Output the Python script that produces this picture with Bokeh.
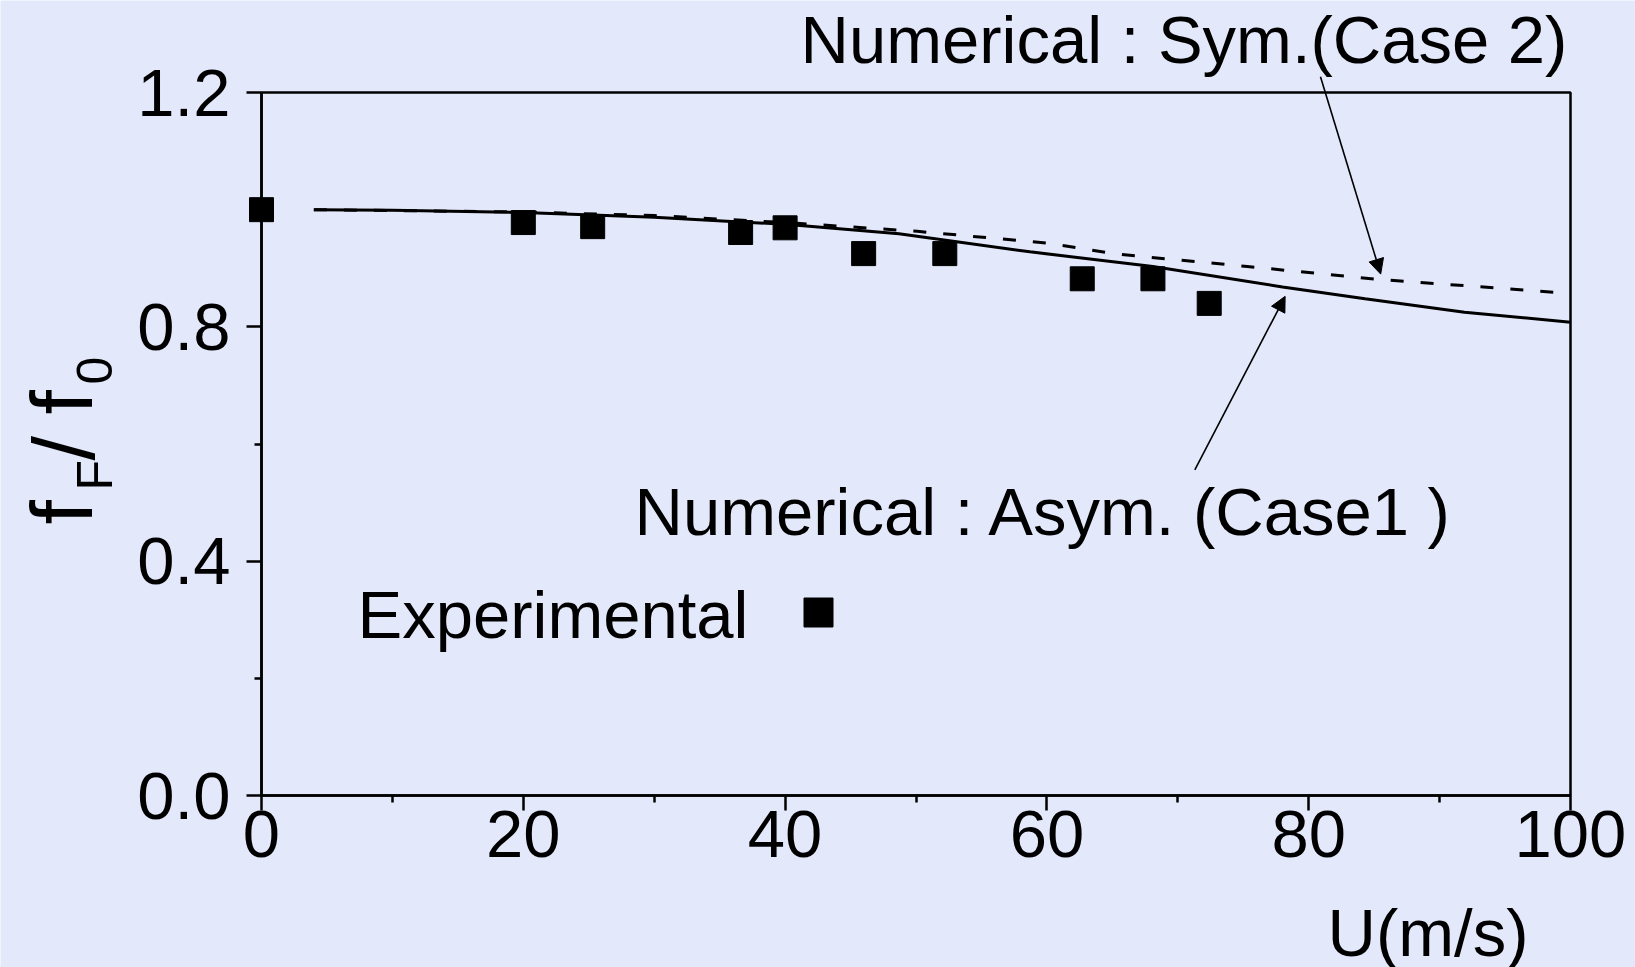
from bokeh.plotting import figure
from bokeh.models import Range1d, Label, Arrow, NormalHead, FixedTicker, BoxAnnotation
from bokeh.embed import file_html
from bokeh.resources import INLINE

# Flutter frequency ratio f_F/f_0 versus wind speed U (m/s)
u_exp = [0.0, 20.0, 25.3, 36.6, 40.0, 46.0, 52.2, 62.7, 68.1, 72.4]
f_exp = [1.000, 0.978, 0.971, 0.961, 0.969, 0.925, 0.925, 0.882, 0.882, 0.840]

# Numerical, asymmetric model (Case 1)
u_asym = [4, 10, 20, 30, 36.6, 40, 48.7, 58.7, 68.1, 78, 84.3, 91.9, 100]
f_asym = [1.000, 0.999, 0.995, 0.987, 0.979, 0.975, 0.959, 0.928, 0.903, 0.868, 0.848, 0.825, 0.808]

# Numerical, symmetric model (Case 2)
u_sym = [4, 20, 30, 40, 50.1, 60, 65.4, 75.3, 85.3, 100]
f_sym = [1.000, 0.996, 0.990, 0.978, 0.963, 0.943, 0.924, 0.903, 0.881, 0.857]

x_ticks = [0, 20, 40, 60, 80, 100]
x_minor = [10, 30, 50, 70, 90]
y_ticks = [0.0, 0.4, 0.8, 1.2]
y_minor = [0.2, 0.6, 1.0]
y_tick_labels = ["0.0", "0.4", "0.8", "1.2"]

BG = "#E3E8FB"
FONT = "Liberation Sans, Arial, sans-serif"
W, H = 1635, 967
# pixel box of the axes rectangle on the canvas
L, R, T, B = 261, 1570, 92, 795
X0, X1, Y0, Y1 = 0, 100, 0, 1.2
SX = (X1 - X0) / (R - L)
SY = (Y1 - Y0) / (B - T)


def at(px, py):
    """Canvas pixel position -> data coordinates."""
    return X0 + (px - L) * SX, Y0 + (B - py) * SY


# the frame covers the whole canvas so that texts outside the axes box are not clipped;
# the axes are pinned to the data origin instead
x_lo, y_hi = at(0, 0)
x_hi, y_lo = at(W, H)

p = figure(width=W, height=H, x_range=Range1d(x_lo, x_hi), y_range=Range1d(y_lo, y_hi),
           min_border=0, output_backend="svg", toolbar_location=None)
p.background_fill_color = BG
p.border_fill_color = BG
p.grid.visible = False
p.outline_line_color = None

p.xaxis.ticker = FixedTicker(ticks=x_ticks, minor_ticks=x_minor)
p.yaxis.ticker = FixedTicker(ticks=y_ticks, minor_ticks=y_minor)
p.yaxis.major_label_overrides = {v: s for v, s in zip(y_ticks, y_tick_labels)}
p.xaxis.fixed_location = Y0
p.yaxis.fixed_location = X0
p.xaxis.bounds = (X0, X1)
p.yaxis.bounds = (Y0, Y1)

for ax in (p.xaxis, p.yaxis):
    ax.axis_line_width = 2.5
    ax.axis_line_color = "black"
    ax.major_tick_line_width = 2.5
    ax.minor_tick_line_width = 2.5
    ax.major_tick_line_color = "black"
    ax.minor_tick_line_color = "black"
    ax.major_tick_in = 0
    ax.minor_tick_in = 0
    ax.major_tick_out = 15
    ax.minor_tick_out = 7
    ax.major_label_text_font = FONT
    ax.major_label_text_font_size = "67px"
    ax.major_label_text_color = "black"
p.xaxis.major_label_standoff = 0
p.yaxis.major_label_standoff = 16

# axes box
p.add_layout(BoxAnnotation(left=X0, right=X1, bottom=Y0, top=Y1, fill_alpha=0,
                           line_color="black", line_alpha=1, line_width=2.5))

# curves
p.line(u_sym, f_sym, line_color="black", line_width=3, line_dash="13 17")
p.line(u_asym, f_asym, line_color="black", line_width=3)
# experiment
p.scatter(u_exp, f_exp, marker="square", size=24, fill_color="black", line_color="black")

# annotation arrows
head = dict(size=15, fill_color="black", line_color="black", line_width=1)
p.add_layout(Arrow(end=NormalHead(**head), x_start=80.9, y_start=1.227, x_end=85.5, y_end=0.890,
                   line_width=1.6, line_color="black"))
p.add_layout(Arrow(end=NormalHead(**head), x_start=71.3, y_start=0.556, x_end=78.2, y_end=0.852,
                   line_width=1.6, line_color="black"))


def text(px, py, s, size=67, align="left", angle=0):
    x, y = at(px, py)
    p.add_layout(Label(x=x, y=y, text=s, text_font=FONT, text_font_size=f"{size}px",
                       text_color="black", text_align=align, text_baseline="alphabetic",
                       angle=angle, angle_units="deg"))


text(800, 39, "Numerical : Sym.(Case 2)")
text(634, 511, "Numerical : Asym. (Case1 )")
text(357, 614, "Experimental")
lx, ly = at(818, 612)
p.scatter([lx], [ly], marker="square", size=29, fill_color="black", line_color="black")
text(1528, 932, "U(m/s)", align="right")

# y-axis title f_F / f_0, written bottom-to-top
text(61, 524, "f", size=88, angle=90)
text(94, 490, "F", size=50, angle=90)
text(63, 460, "/", size=88, angle=90)
text(61, 414, "f", size=88, angle=90)
text(94, 384, "0", size=50, angle=90)

open("out.html", "w").write(file_html(p, INLINE))
